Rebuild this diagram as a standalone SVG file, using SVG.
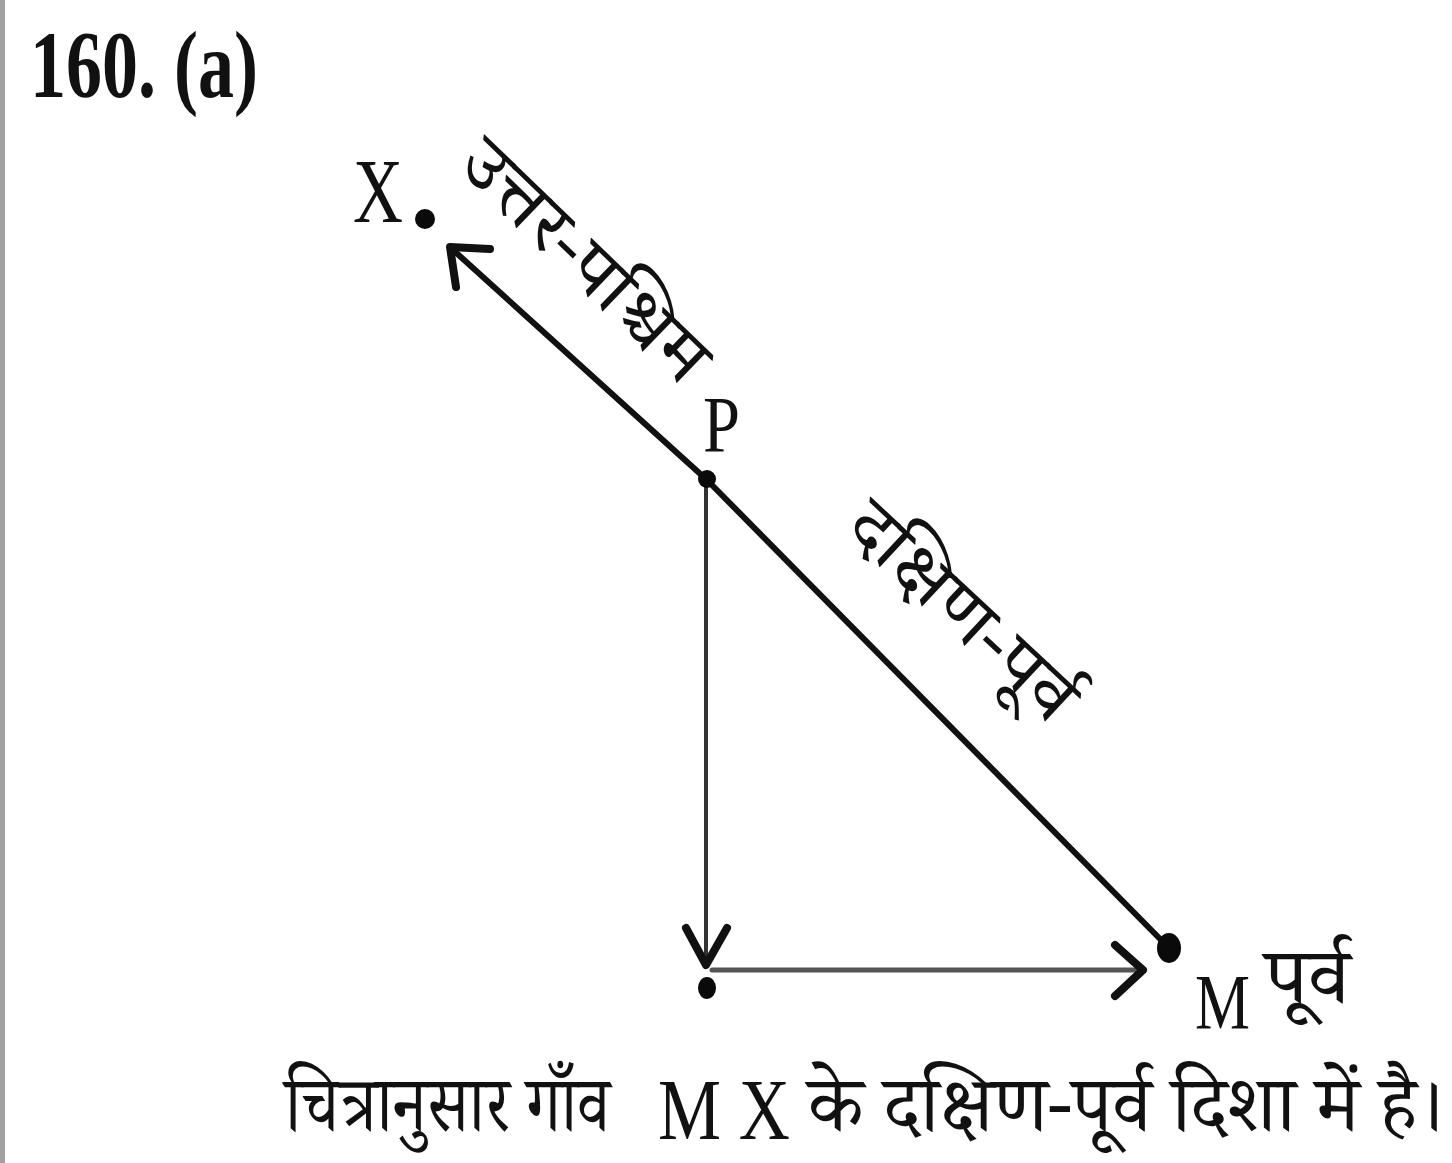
<svg xmlns="http://www.w3.org/2000/svg" width="1452" height="1163" viewBox="0 0 1452 1163">
<style>
.lat{font-family:"Liberation Serif","Times New Roman",serif;fill:#111}
.dev{font-family:"Noto Serif Devanagari","Noto Sans Devanagari","Lohit Devanagari","FreeSerif","Noto Sans",serif;fill:#111}
.dot{fill:#0a0a0a}
.ln{fill:none;stroke-linecap:round}
.head{fill:none;stroke:#111;stroke-width:8;stroke-linecap:round;stroke-linejoin:round}
</style>
<rect x="0" y="0" width="1452" height="1163" fill="#fff"/>
<rect x="0" y="0" width="5" height="1163" fill="#a0a0a0"/>
<text class="lat" x="30" y="97" font-size="95" font-weight="bold" textLength="228" lengthAdjust="spacingAndGlyphs">160. (a)</text>

<g id="connectors">
<line class="ln" x1="707" y1="480" x2="452" y2="249" stroke="#111" stroke-width="6"/>
<polyline class="head" points="490,249 450,247 456,287"/>
<line class="ln" x1="707" y1="480" x2="1169" y2="948" stroke="#111" stroke-width="6"/>
<line class="ln" x1="706" y1="480" x2="706" y2="962" stroke="#333" stroke-width="4"/>
<polyline class="head" points="686,928 706,965 727,928"/>
<line class="ln" x1="712" y1="970" x2="1140" y2="970" stroke="#555" stroke-width="5"/>
<polyline class="head" points="1115,945 1143,970 1115,996"/>
</g>

<g id="node-X">
<circle class="dot" cx="425" cy="219" r="10"/>
<text class="lat" x="353" y="222" font-size="92" textLength="50" lengthAdjust="spacingAndGlyphs">X</text>
</g>
<g id="node-P">
<circle class="dot" cx="707" cy="479" r="9"/>
<text class="lat" x="703" y="452" font-size="80" textLength="37" lengthAdjust="spacingAndGlyphs">P</text>
</g>
<g id="node-M">
<ellipse class="dot" cx="1169" cy="948" rx="12" ry="15"/>
<text class="lat" x="1195" y="1028" font-size="78" textLength="55" lengthAdjust="spacingAndGlyphs">M</text>
<text class="dev" x="1265" y="1003" font-size="78" textLength="85" lengthAdjust="spacingAndGlyphs">पूर्व</text>
</g>
<g id="node-B">
<ellipse class="dot" cx="707" cy="988" rx="9" ry="11"/>
</g>

<text class="dev" transform="translate(598,248) rotate(44)" x="0" y="42" font-size="72" text-anchor="middle" textLength="315" lengthAdjust="spacingAndGlyphs">उत्तर-पश्चिम</text>
<text class="dev" transform="translate(975,598) rotate(43)" x="0" y="42" font-size="72" text-anchor="middle" textLength="285" lengthAdjust="spacingAndGlyphs">दक्षिण-पूर्व</text>

<text class="dev" font-size="78" y="1131"><tspan x="285" textLength="325" lengthAdjust="spacingAndGlyphs">चित्रानुसार गाँव</tspan> <tspan class="lat" x="658" y="1139" font-size="86" textLength="132" lengthAdjust="spacingAndGlyphs">M X</tspan> <tspan x="808" y="1131" textLength="637" lengthAdjust="spacingAndGlyphs">के दक्षिण-पूर्व दिशा में है।</tspan></text>
</svg>
